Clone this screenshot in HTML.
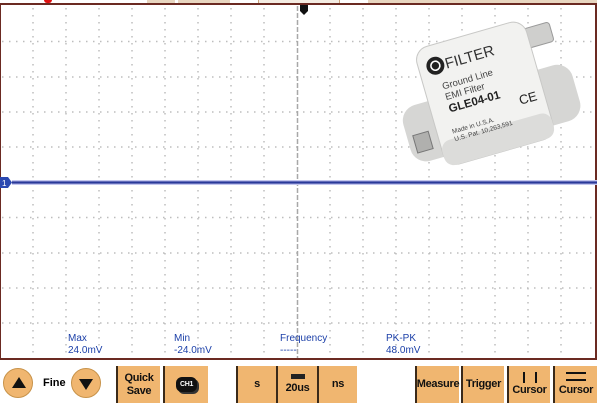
<!DOCTYPE html>
<html><head><meta charset="utf-8"><style>
body{margin:0;width:600px;height:403px;overflow:hidden;background:#fff;font-family:"Liberation Sans",sans-serif;position:relative}
.abs{position:absolute}
.btn{position:absolute;top:366px;height:37px;background:#f0b670;border-left:2px solid #3a2a1a;box-sizing:border-box;font-weight:bold;font-size:11px;color:#111;display:flex;align-items:center;justify-content:center;text-align:center;line-height:13px;letter-spacing:-0.3px}
.lbl{position:absolute;color:#1b3fa8;font-size:10px;line-height:12px}
.circ{position:absolute;top:368px;width:30px;height:30px;border-radius:50%;background:#f0b670;border:1px solid #c8934a;box-sizing:border-box}
</style></head><body>
<div class="abs" style="left:44px;top:0;width:8px;height:3px;background:#e01010;border-radius:0 0 4px 4px"></div>
<div class="abs" style="left:147px;top:0;width:28px;height:3px;background:#e8d6c0"></div>
<div class="abs" style="left:178px;top:0;width:52px;height:3px;background:#e8d6c0"></div>
<div class="abs" style="left:258px;top:0;width:80px;height:3px;background:#f4ece2;border:1px solid #c9a27a;border-top:none"></div>
<div class="abs" style="left:368px;top:0;width:229px;height:3px;background:#e8d6c0"></div>
<svg class="abs" style="left:0;top:0" width="600" height="403">
<g stroke="#bdbdbd" stroke-width="1.5" stroke-dasharray="1.5 5.5">
<line x1="33" y1="8" x2="33" y2="358"/><line x1="66" y1="8" x2="66" y2="358"/><line x1="99" y1="8" x2="99" y2="358"/><line x1="132" y1="8" x2="132" y2="358"/><line x1="165" y1="8" x2="165" y2="358"/><line x1="198" y1="8" x2="198" y2="358"/><line x1="231" y1="8" x2="231" y2="358"/><line x1="264" y1="8" x2="264" y2="358"/><line x1="330" y1="8" x2="330" y2="358"/><line x1="363" y1="8" x2="363" y2="358"/><line x1="396" y1="8" x2="396" y2="358"/><line x1="429" y1="8" x2="429" y2="358"/><line x1="462" y1="8" x2="462" y2="358"/><line x1="495" y1="8" x2="495" y2="358"/><line x1="528" y1="8" x2="528" y2="358"/><line x1="561" y1="8" x2="561" y2="358"/>
<line x1="2" y1="41.5" x2="595" y2="41.5"/><line x1="2" y1="77" x2="595" y2="77"/><line x1="2" y1="112" x2="595" y2="112"/><line x1="2" y1="147" x2="595" y2="147"/><line x1="2" y1="217.5" x2="595" y2="217.5"/><line x1="2" y1="253" x2="595" y2="253"/><line x1="2" y1="288" x2="595" y2="288"/><line x1="2" y1="323" x2="595" y2="323"/>
</g>
<line x1="297.5" y1="6" x2="297.5" y2="358" stroke="#a8a8a8" stroke-width="1.5" stroke-dasharray="5 2"/>
<rect x="0" y="4" width="596" height="355" fill="none" stroke="#6b2a22" stroke-width="2"/>
<path d="M300 5 h8 v6 l-4 4 l-4 -4z" fill="#111"/>
<line x1="12" y1="182.5" x2="597" y2="182.5" stroke="#c4c7ee" stroke-width="5"/>
<line x1="12" y1="182.5" x2="597" y2="182.5" stroke="#2a3a9a" stroke-width="2.2"/>
<path d="M0 177 h8 l4 5.5 l-4 5.5 h-8z" fill="#2b48b0"/>
<text x="2" y="186" font-size="8" fill="#fff" font-family="Liberation Sans">1</text>
<g transform="translate(485,90) rotate(-16)">
<rect x="-88" y="-5" width="176" height="58" rx="16" fill="#d6d6d4"/>
<rect x="48" y="-48" width="32" height="20" rx="3" fill="#cfcfcd" stroke="#9a9a9a"/>
<rect x="-82" y="24" width="16" height="18" fill="#b0b0ae" stroke="#777"/>
<rect x="-58" y="-58" width="114" height="122" rx="14" fill="#f2f2f0" stroke="#c8c8c6"/>
<rect x="-58" y="38" width="114" height="26" rx="10" fill="#dcdcda"/>
<circle cx="-41" cy="-37" r="9" fill="#222"/>
<circle cx="-41" cy="-37" r="4.5" fill="none" stroke="#fff" stroke-width="1.6"/>
<text x="-31" y="-31" font-size="15" fill="#333" font-family="Liberation Sans">FILTER</text>
<text x="-40" y="-12" font-size="9.5" fill="#444" font-family="Liberation Sans">Ground Line</text>
<text x="-40" y="-1" font-size="9.5" fill="#444" font-family="Liberation Sans">EMI Filter</text>
<text x="-40" y="12" font-size="11.5" font-weight="bold" fill="#222" font-family="Liberation Sans">GLE04-01</text>
<text x="-43" y="33" font-size="6.5" fill="#444" font-family="Liberation Sans">Made in U.S.A.</text>
<text x="-43" y="41" font-size="6.5" fill="#444" font-family="Liberation Sans">U.S. Pat. 10,263,591</text>
<text x="30" y="24" font-size="13" fill="#222" font-family="Liberation Sans">CE</text>
</g>
</svg>
<div class="lbl" style="left:68px;top:333px">Max<br>24.0mV</div>
<div class="lbl" style="left:174px;top:333px">Min<br>-24.0mV</div>
<div class="lbl" style="left:280px;top:333px">Frequency<br>-----</div>
<div class="lbl" style="left:386px;top:333px">PK-PK<br>48.0mV</div>
<div class="circ" style="left:3px"><div class="abs" style="left:8px;top:8px;width:0;height:0;border-left:7px solid transparent;border-right:7px solid transparent;border-bottom:11px solid #111"></div></div>
<div class="abs" style="left:43px;top:377px;font-size:11px;font-weight:bold">Fine</div>
<div class="circ" style="left:71px"><div class="abs" style="left:7px;top:10px;width:0;height:0;border-left:7px solid transparent;border-right:7px solid transparent;border-top:11px solid #111"></div></div>
<div class="btn" style="left:116px;width:44px">Quick<br>Save</div>
<div class="btn" style="left:163px;width:45px"><div style="background:#111;color:#fff;font-size:7px;border-radius:6px;padding:1px 4px;box-shadow:2px 2px 0 #333">CH1</div></div>
<div class="btn" style="left:236px;width:40px">s</div>
<div class="btn" style="left:276px;width:41px;flex-direction:column"><div style="width:14px;height:5px;background:#222;margin-bottom:3px"></div>20us</div>
<div class="btn" style="left:317px;width:40px">ns</div>
<div class="btn" style="left:415px;width:44px">Measure</div>
<div class="btn" style="left:461px;width:43px">Trigger</div>
<div class="btn" style="left:507px;width:43px;flex-direction:column"><div style="width:10px;height:11px;border-left:2px solid #111;border-right:2px solid #111;margin-bottom:1px"></div>Cursor</div>
<div class="btn" style="left:553px;width:44px;flex-direction:column"><div style="width:20px;height:5px;border-top:2px solid #111;border-bottom:2px solid #111;margin-bottom:3px"></div>Cursor</div>
</body></html>
